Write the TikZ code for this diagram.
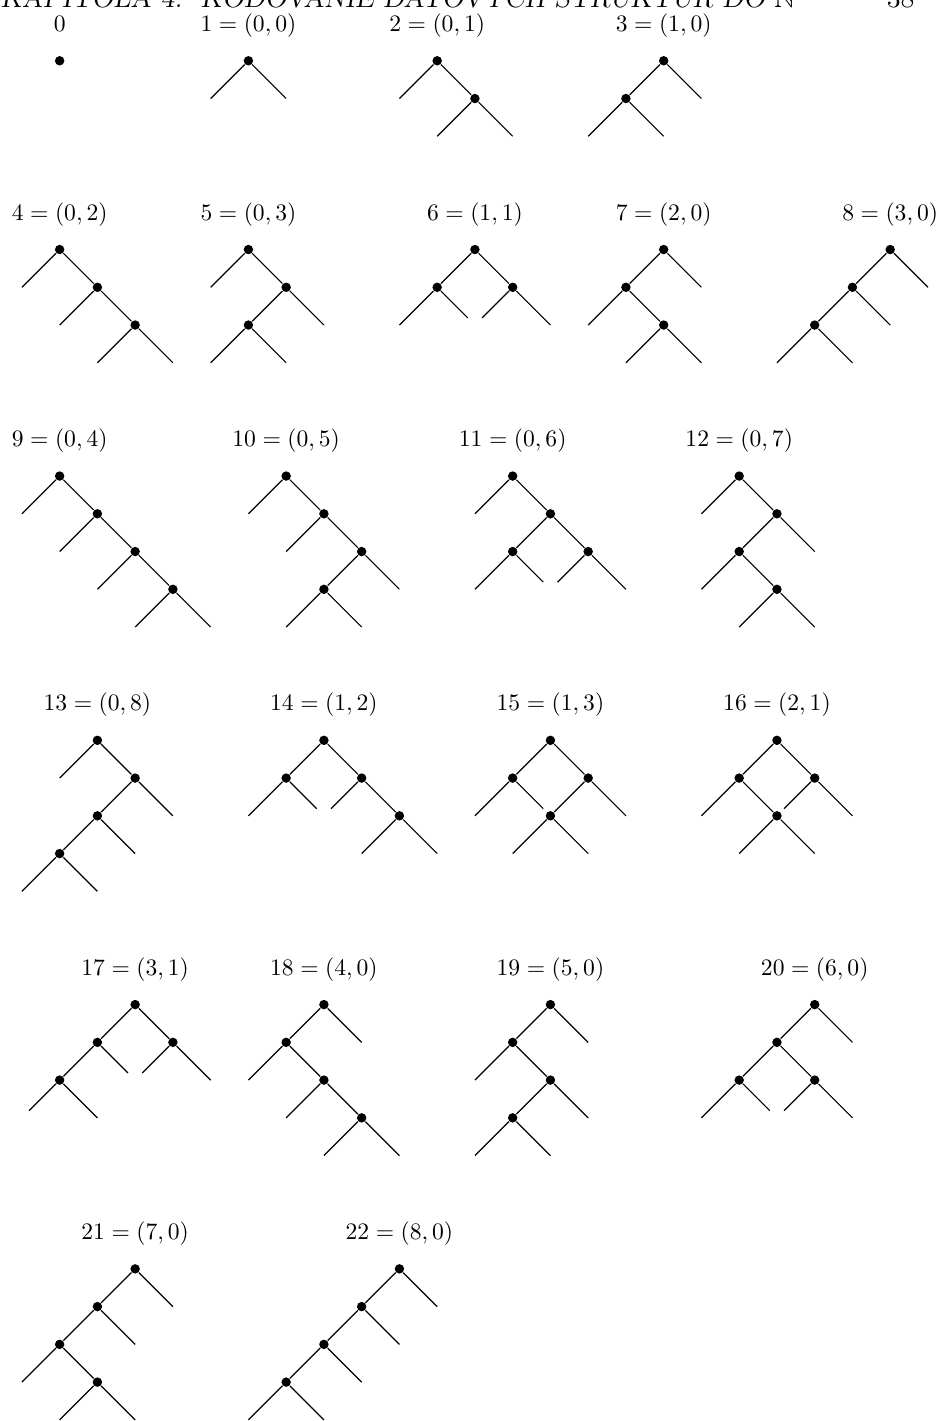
\documentclass[tikz,border=0pt]{standalone}
\usepackage{fontspec}
\usepackage{amsmath, amssymb}
\usepackage{tikz}
\usetikzlibrary{positioning, calc}

\begin{document}
\begin{tikzpicture}[x=16pt, y=16pt, line width=0.5pt,
  dot/.style={circle, fill=black, inner sep=0pt, minimum size=4pt},
  lbl/.style={anchor=base},
  shortleaf/.style={edge from parent path={(\tikzparentnode) -- ($(\tikzparentnode)!0.81!(\tikzchildnode)$)}},
  level distance=16pt, sibling distance=32pt]
% page frame (the running head is cut at the top edge)
\useasboundingbox (0,0) rectangle (24.98,-37.64);
\clip (0,0) rectangle (24.98,-37.64);
\node[anchor=base west, inner sep=0pt, font=\fontsize{12}{14}\selectfont\slshape] (head) at (0,-0.2)
  {KAPITOLA 4.\ \ KÓDOVANIE DÁTOVÝCH ŠTRUKTÚR DO $\mathbb{N}$};
\node[anchor=base east, inner sep=0pt, font=\fontsize{12}{14}\selectfont] (pagenum) at (24.24,-0.2) {38};

\begin{scope}[shift={(0.58,-1.61)}]
% Row 1: 0, 1, 2, 3
\node[dot] (t0) at (1,0) {};
\node[lbl] (l0) at (1,0.78) {$0$};

\node[dot] (t1) at (6,0) {} child {coordinate} child {coordinate};
\node[lbl] (l1) at (6,0.78) {$1 = (0,0)$};

\node[dot] (t2) at (11,0) {}
  child {coordinate}
  child {node[dot] {} child {coordinate} child {coordinate}};
\node[lbl] (l2) at (11,0.78) {$2 = (0,1)$};

\node[dot] (t3) at (17,0) {}
  child {node[dot] {} child {coordinate} child {coordinate}}
  child {coordinate};
\node[lbl] (l3) at (17,0.78) {$3 = (1,0)$};

% Row 2: 4 ... 8
\node[dot] (t4) at (1,-5) {}
  child {coordinate}
  child {node[dot] {}
    child {coordinate}
    child {node[dot] {} child {coordinate} child {coordinate}}};
\node[lbl] (l4) at (1,-4.22) {$4 = (0,2)$};

\node[dot] (t5) at (6,-5) {}
  child {coordinate}
  child {node[dot] {}
    child {node[dot] {} child {coordinate} child {coordinate}}
    child {coordinate}};
\node[lbl] (l5) at (6,-4.22) {$5 = (0,3)$};

\node[dot] (t6) at (12,-5) {}
  child {node[dot] {} child {coordinate} child[shortleaf] {coordinate}}
  child {node[dot] {} child[shortleaf] {coordinate} child {coordinate}};
\node[lbl] (l6) at (12,-4.22) {$6 = (1,1)$};

\node[dot] (t7) at (17,-5) {}
  child {node[dot] {}
    child {coordinate}
    child {node[dot] {} child {coordinate} child {coordinate}}}
  child {coordinate};
\node[lbl] (l7) at (17,-4.22) {$7 = (2,0)$};

\node[dot] (t8) at (23,-5) {}
  child {node[dot] {}
    child {node[dot] {} child {coordinate} child {coordinate}}
    child {coordinate}}
  child {coordinate};
\node[lbl] (l8) at (23,-4.22) {$8 = (3,0)$};

% Row 3: 9 ... 12
\node[dot] (t9) at (1,-11) {}
  child {coordinate}
  child {node[dot] {}
    child {coordinate}
    child {node[dot] {}
      child {coordinate}
      child {node[dot] {} child {coordinate} child {coordinate}}}};
\node[lbl] (l9) at (1,-10.22) {$9 = (0,4)$};

\node[dot] (t10) at (7,-11) {}
  child {coordinate}
  child {node[dot] {}
    child {coordinate}
    child {node[dot] {}
      child {node[dot] {} child {coordinate} child {coordinate}}
      child {coordinate}}};
\node[lbl] (l10) at (7,-10.22) {$10 = (0,5)$};

\node[dot] (t11) at (13,-11) {}
  child {coordinate}
  child {node[dot] {}
    child {node[dot] {} child {coordinate} child[shortleaf] {coordinate}}
    child {node[dot] {} child[shortleaf] {coordinate} child {coordinate}}};
\node[lbl] (l11) at (13,-10.22) {$11 = (0,6)$};

\node[dot] (t12) at (19,-11) {}
  child {coordinate}
  child {node[dot] {}
    child {node[dot] {}
      child {coordinate}
      child {node[dot] {} child {coordinate} child {coordinate}}}
    child {coordinate}};
\node[lbl] (l12) at (19,-10.22) {$12 = (0,7)$};

% Row 4: 13 ... 16
\node[dot] (t13) at (2,-18) {}
  child {coordinate}
  child {node[dot] {}
    child {node[dot] {}
      child {node[dot] {} child {coordinate} child {coordinate}}
      child {coordinate}}
    child {coordinate}};
\node[lbl] (l13) at (2,-17.22) {$13 = (0,8)$};

\node[dot] (t14) at (8,-18) {}
  child {node[dot] {} child {coordinate} child[shortleaf] {coordinate}}
  child {node[dot] {}
    child[shortleaf] {coordinate}
    child {node[dot] {} child {coordinate} child {coordinate}}};
\node[lbl] (l14) at (8,-17.22) {$14 = (1,2)$};

\node[dot] (t15) at (14,-18) {}
  child {node[dot] {} child {coordinate} child[shortleaf] {coordinate}}
  child {node[dot] {}
    child {node[dot] {} child {coordinate} child {coordinate}}
    child {coordinate}};
\node[lbl] (l15) at (14,-17.22) {$15 = (1,3)$};

\node[dot] (t16) at (20,-18) {}
  child {node[dot] {}
    child {coordinate}
    child {node[dot] {} child {coordinate} child {coordinate}}}
  child {node[dot] {} child[shortleaf] {coordinate} child {coordinate}};
\node[lbl] (l16) at (20,-17.22) {$16 = (2,1)$};

% Row 5: 17 ... 20
\node[dot] (t17) at (3,-25) {}
  child {node[dot] {}
    child {node[dot] {} child[shortleaf] {coordinate} child {coordinate}}
    child[shortleaf] {coordinate}}
  child {node[dot] {} child[shortleaf] {coordinate} child {coordinate}};
\node[lbl] (l17) at (3,-24.22) {$17 = (3,1)$};

\node[dot] (t18) at (8,-25) {}
  child {node[dot] {}
    child {coordinate}
    child {node[dot] {}
      child {coordinate}
      child {node[dot] {} child {coordinate} child {coordinate}}}}
  child {coordinate};
\node[lbl] (l18) at (8,-24.22) {$18 = (4,0)$};

\node[dot] (t19) at (14,-25) {}
  child {node[dot] {}
    child {coordinate}
    child {node[dot] {}
      child {node[dot] {} child {coordinate} child {coordinate}}
      child {coordinate}}}
  child {coordinate};
\node[lbl] (l19) at (14,-24.22) {$19 = (5,0)$};

\node[dot] (t20) at (21,-25) {}
  child {node[dot] {}
    child {node[dot] {} child {coordinate} child[shortleaf] {coordinate}}
    child {node[dot] {} child[shortleaf] {coordinate} child {coordinate}}}
  child {coordinate};
\node[lbl] (l20) at (21,-24.22) {$20 = (6,0)$};

% Row 6: 21, 22
\node[dot] (t21) at (3,-32) {}
  child {node[dot] {}
    child {node[dot] {}
      child {coordinate}
      child {node[dot] {} child {coordinate} child {coordinate}}}
    child {coordinate}}
  child {coordinate};
\node[lbl] (l21) at (3,-31.22) {$21 = (7,0)$};

\node[dot] (t22) at (10,-32) {}
  child {node[dot] {}
    child {node[dot] {}
      child {node[dot] {} child {coordinate} child {coordinate}}
      child {coordinate}}
    child {coordinate}}
  child {coordinate};
\node[lbl] (l22) at (10,-31.22) {$22 = (8,0)$};
\end{scope}
\end{tikzpicture}
\end{document}
